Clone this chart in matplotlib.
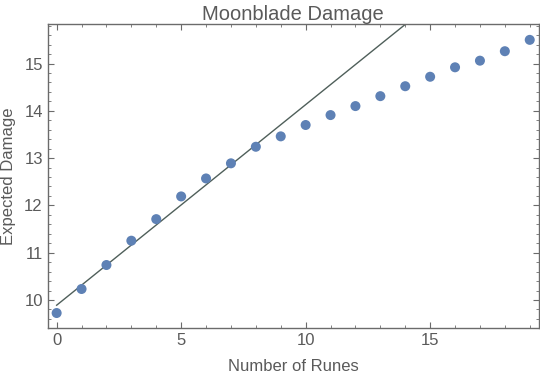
import matplotlib
matplotlib.use("Agg")
import matplotlib.pyplot as plt
import numpy as np
from matplotlib.ticker import MultipleLocator

runes = list(range(20))
damage = [9.725, 10.233, 10.74, 11.254, 11.71, 12.19, 12.57, 12.89, 13.24, 13.46,
          13.70, 13.91, 14.10, 14.31, 14.52, 14.72, 14.92, 15.06, 15.26, 15.50]
fit_intercept = 9.89
fit_slope = 0.424

x_ticks = [0, 5, 10, 15]
y_ticks = [10, 11, 12, 13, 14, 15]

plt.rcParams['font.family'] = ['Liberation Sans', 'DejaVu Sans']
txt = '#5a5a5a'
frame_c = '#6b6b6b'

fig = plt.figure(figsize=(5.4, 3.77), dpi=100)
ax = fig.add_axes([0.0883, 0.1308, 0.9093, 0.8055])

xl = np.array([0, 19])
ax.plot(xl, fit_intercept + fit_slope * xl, color='#4f5f5a', lw=1.0, zorder=2)
ax.scatter(runes, damage, s=52, color='#5e81b5', zorder=3, edgecolors='none')

ax.set_xlim(-0.36, 19.36)
ax.set_ylim(9.415, 15.835)
ax.set_xticks(x_ticks)
ax.set_yticks(y_ticks)
ax.xaxis.set_minor_locator(MultipleLocator(1))
ax.yaxis.set_minor_locator(MultipleLocator(0.2))
ax.tick_params(which='both', direction='in', top=True, right=True, colors=frame_c,
               labelcolor=txt, labelsize=12)
ax.tick_params(which='major', length=4, width=0.8)
ax.tick_params(which='minor', length=2.2, width=0.6)
for s in ax.spines.values():
    s.set_color(frame_c)
    s.set_linewidth(1.0)

ax.set_title('Moonblade Damage', color=txt, fontsize=14.5, pad=2)
ax.set_xlabel('Number of Runes', color=txt, fontsize=12, labelpad=8)
ax.set_ylabel('Expected Damage', color=txt, fontsize=12, labelpad=6)

fig.savefig('out.png', dpi=100)
